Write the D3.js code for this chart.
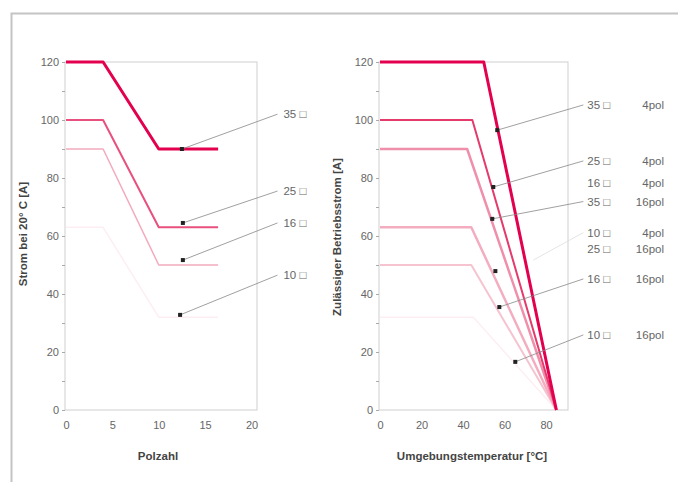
<!DOCTYPE html>
<html><head><meta charset="utf-8">
<script src="https://cdn.jsdelivr.net/npm/d3@7"></script>
<style>body{margin:0;background:#fff}svg{display:block;font-family:"Liberation Sans",Arial,sans-serif}</style>
</head><body><svg id="c" width="678" height="482"></svg>
<script>
// ---------- data ----------
const yTicks = [0,20,40,60,80,100,120];
const leftXTicks = [0,5,10,15,20];
const rightXTicks = [0,20,40,60,80];

// left: current at 20°C vs pole count
const leftSeries = [
  {name:"10 □", color:"#fdeef2", width:1.5, pts:[[0,63],[4,63],[10,32],[16.4,32]]},
  {name:"16 □", color:"#f4aabd", width:1.5, pts:[[0,90],[4,90],[10,50],[16.4,50]]},
  {name:"25 □", color:"#e8507e", width:2,   pts:[[0,100],[4,100],[10,63],[16.4,63]]},
  {name:"35 □", color:"#e3004f", width:3,   pts:[[0,120],[4,120],[10,90],[16.4,90]]}
];
const leftDots = [[12.5,90],[12.6,64.5],[12.6,51.7],[12.3,32.8]];
const leftLabels = [
  {text:"35 □", from:[12.5,90],  to:[22.8,102]},
  {text:"25 □", from:[12.6,64.5],to:[22.8,75.5]},
  {text:"16 □", from:[12.6,51.7],to:[22.8,64.5]},
  {text:"10 □", from:[12.3,32.8],to:[22.8,46.5]}
];

// right: permissible current vs ambient temperature
const rightSeries = [
  {name:"10 □ 16pol", color:"#fdeef2", width:1.5, pts:[[0,32],[45,32],[85,0]]},
  {name:"16 □ 16pol", color:"#f6c4d0", width:2,   pts:[[0,50],[44,50],[85,0]]},
  {name:"25 □ 16pol", color:"#f4adc0", width:2.5, pts:[[0,63],[44,63],[85,0]]},
  {name:"16 □ 4pol",  color:"#f08fab", width:2.5, pts:[[0,90],[42,90],[85,0]]},
  {name:"25 □ 4pol",  color:"#e43a6c", width:2,   pts:[[0,100],[44.5,100],[85,0]]},
  {name:"35 □ 4pol",  color:"#e3004f", width:3,   pts:[[0,120],[50,120],[85,0]]}
];
const rightDots = [[56.5,96.5],[54.6,76.9],[54.1,65.9],[55.6,47.9],[57.5,35.5],[65.2,16.6]];
const rightLabels = [
  {size:"35", pol:"4pol",  y:104.5, from:[56.5,96.5]},
  {size:"25", pol:"4pol",  y:85.2,  from:[54.6,76.9]},
  {size:"16", pol:"4pol",  y:77.5,  from:null},
  {size:"35", pol:"16pol", y:71.2,  from:[54.1,65.9]},
  {size:"10", pol:"4pol",  y:60.5,  from:[73.9,51.7]},
  {size:"25", pol:"16pol", y:54.8,  from:null},
  {size:"16", pol:"16pol", y:44.5,  from:[57.5,35.5]},
  {size:"10", pol:"16pol", y:25.2,  from:[65.2,16.6]}
];

// ---------- drawing ----------
const svg = d3.select("#c");
svg.append("rect").attr("x",11.5).attr("y",13.5).attr("width",700).attr("height",500)
  .attr("fill","none").attr("stroke","#c4c4c4").attr("stroke-width",2);

const y = d3.scaleLinear().domain([0,120]).range([410,62]);
const xL = d3.scaleLinear().domain([0,20]).range([66,251.5]);
const xR = d3.scaleLinear().domain([0,80]).range([380,546]);

function frame(x0, x1){
  svg.append("rect").attr("x",x0).attr("y",y(120)).attr("width",x1-x0).attr("height",y(0)-y(120))
    .attr("fill","none").attr("stroke","#cfcfcf");
}
frame(65, 257);
frame(379, 568);

function axes(x, xt, x0){
  const ya = svg.append("g").attr("transform",`translate(${x0},0)`)
    .call(d3.axisLeft(y).tickValues(d3.range(0,121,10)).tickSize(3).tickFormat(d=>yTicks.includes(d)?d:""));
  const xa = svg.append("g").attr("transform",`translate(0,${y(0)+1})`)
    .call(d3.axisBottom(x).tickValues(xt).tickSize(0).tickPadding(10));
  [ya,xa].forEach(g=>{
    g.select(".domain").remove();
    g.selectAll("line").attr("stroke","#aaa");
    g.selectAll("text").attr("fill","#666").attr("font-size",11);
  });
}
axes(xL, leftXTicks, 65);
axes(xR, rightXTicks, 379);

const line = x => d3.line().x(d=>x(d[0])).y(d=>y(d[1]));

leftSeries.forEach(s=>svg.append("path").attr("d",line(xL)(s.pts)).attr("fill","none")
  .attr("stroke",s.color).attr("stroke-width",s.width).attr("stroke-linejoin","round"));
rightSeries.forEach(s=>svg.append("path").attr("d",line(xR)(s.pts)).attr("fill","none")
  .attr("stroke",s.color).attr("stroke-width",s.width).attr("stroke-linejoin","round"));

// leaders and labels
leftLabels.forEach(l=>{
  svg.append("line").attr("x1",xL(l.from[0])).attr("y1",y(l.from[1]))
    .attr("x2",xL(l.to[0])).attr("y2",y(l.to[1])).attr("stroke","#888").attr("stroke-width",0.8);
  svg.append("text").attr("x",xL(l.to[0])+6).attr("y",y(l.to[1])+4)
    .attr("font-size",11.5).attr("fill","#666").text(l.text);
});
const labelX = 98;
rightLabels.forEach(l=>{
  if(l.from) svg.append("line").attr("x1",xR(l.from[0])).attr("y1",y(l.from[1]))
    .attr("x2",xR(labelX)).attr("y2",y(l.y)-2).attr("stroke", l.size==="10"&&l.pol==="4pol"?"#ddd":"#888").attr("stroke-width",0.8);
  svg.append("text").attr("x",xR(labelX)+4).attr("y",y(l.y)+2)
    .attr("font-size",11.5).attr("fill","#666").text(l.size+" □");
  svg.append("text").attr("x",664).attr("y",y(l.y)+2).attr("text-anchor","end")
    .attr("font-size",11.5).attr("fill","#666").text(l.pol);
});

svg.selectAll(".dotL").data(leftDots).join("rect").attr("class","dotL")
  .attr("x",d=>xL(d[0])-2).attr("y",d=>y(d[1])-2).attr("width",4).attr("height",4).attr("fill","#222");
svg.selectAll(".dotR").data(rightDots).join("rect").attr("class","dotR")
  .attr("x",d=>xR(d[0])-2).attr("y",d=>y(d[1])-2).attr("width",4).attr("height",4).attr("fill","#222");

// axis titles
svg.append("text").attr("transform",`translate(27,234) rotate(-90)`).attr("text-anchor","middle")
  .attr("font-size",11.5).attr("font-weight","bold").attr("fill","#444").text("Strom bei 20° C [A]");
svg.append("text").attr("transform",`translate(341,237) rotate(-90)`).attr("text-anchor","middle")
  .attr("font-size",11.5).attr("font-weight","bold").attr("fill","#444").text("Zulässiger Betriebsstrom [A]");
svg.append("text").attr("x",158).attr("y",460).attr("text-anchor","middle")
  .attr("font-size",11.5).attr("font-weight","bold").attr("fill","#444").text("Polzahl");
svg.append("text").attr("x",472).attr("y",460).attr("text-anchor","middle")
  .attr("font-size",11.5).attr("font-weight","bold").attr("fill","#444").text("Umgebungstemperatur [°C]");
</script></body></html>
